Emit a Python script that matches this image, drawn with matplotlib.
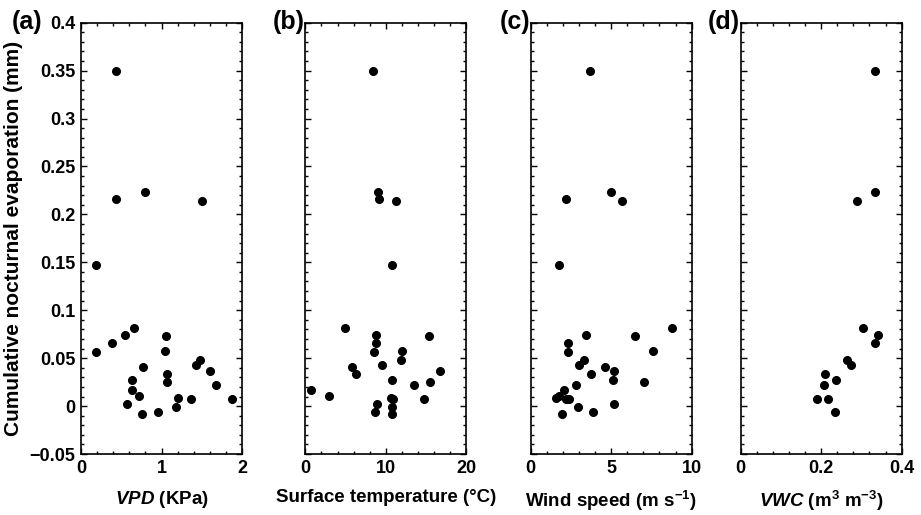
import numpy as np
import matplotlib
matplotlib.use('Agg')
import matplotlib.pyplot as plt
from matplotlib.ticker import MultipleLocator, FuncFormatter

##### 讀圖估計的數據 (mm)
vpd_x = [0.43, 0.44, 0.80, 1.50, 0.19, 0.19, 0.39, 0.54, 0.66, 1.05, 1.04, 0.77, 0.63, 0.63,
         0.72, 0.57, 0.76, 0.95, 1.07, 1.07, 1.20, 1.18, 1.36, 1.43, 1.48, 1.60, 1.68, 1.88]
vpd_y = [0.350, 0.2156, 0.223, 0.214, 0.1476, 0.056, 0.066, 0.074, 0.082, 0.073, 0.057, 0.041, 0.027, 0.017,
         0.011, 0.002, -0.008, -0.006, 0.034, 0.025, 0.008, -0.001, 0.007, 0.043, 0.048, 0.037, 0.022, 0.007]

temp_x = [8.35, 9.09, 9.13, 11.3, 10.8, 4.9, 8.8, 8.76, 8.55, 12.0, 11.9, 5.8, 6.3, 9.5,
          15.4, 16.7, 15.45, 13.55, 10.8, 0.74, 2.9, 10.6, 10.9, 10.8, 10.8, 8.9, 8.7, 14.7]
temp_y = [0.350, 0.223, 0.2156, 0.214, 0.1476, 0.082, 0.074, 0.066, 0.056, 0.057, 0.048, 0.041, 0.033, 0.043,
          0.073, 0.037, 0.025, 0.0215, 0.027, 0.017, 0.011, 0.008, 0.007, -0.001, -0.008, 0.002, -0.006, 0.007]

wind_x = [3.71, 4.98, 2.20, 5.66, 1.76, 8.76, 3.46, 6.45, 2.32, 2.32, 7.59, 3.32, 3.01, 4.61,
          5.17, 3.73, 5.12, 7.05, 2.84, 2.05, 1.78, 1.56, 2.22, 2.39, 2.97, 5.19, 1.97, 3.88]
wind_y = [0.350, 0.223, 0.2156, 0.214, 0.1476, 0.082, 0.074, 0.073, 0.066, 0.056, 0.057, 0.048, 0.043, 0.041,
          0.037, 0.033, 0.027, 0.025, 0.0215, 0.017, 0.011, 0.008, 0.007, 0.007, -0.001, 0.002, -0.008, -0.006]

vwc_x = [0.333, 0.335, 0.288, 0.303, 0.342, 0.333, 0.265, 0.275, 0.209, 0.236, 0.2075, 0.190, 0.216, 0.234]
vwc_y = [0.350, 0.223, 0.214, 0.082, 0.074, 0.066, 0.048, 0.043, 0.033, 0.027, 0.0215, 0.007, 0.007, -0.006]

panel_tags = ['(a)', '(b)', '(c)', '(d)']
x_labels = [r'$\it{VPD}$ (KPa)', 'Surface temperature (\u00b0C)',
            r'Wind speed (m s$^{-1}$)', r'$\it{VWC}$ (m$^{3}$ m$^{-3}$)']
x_ticks = [[0, 1, 2], [0, 10, 20], [0, 5, 10], [0, 0.2, 0.4]]
x_tick_labels = [['0', '1', '2'], ['0', '10', '20'], ['0', '5', '10'], ['0', '0.2', '0.4']]
x_minor = [0.2, 2, 1, 0.04]
y_label = 'Cumulative nocturnal evaporation (mm)'

plt.rcParams['font.family'] = ['Liberation Sans', 'DejaVu Sans']
plt.rcParams['font.weight'] = 'bold'
plt.rcParams['axes.labelweight'] = 'bold'
plt.rcParams['mathtext.fontset'] = 'custom'
plt.rcParams['mathtext.rm'] = 'Liberation Sans:bold'
plt.rcParams['mathtext.it'] = 'Liberation Sans:italic:bold'
plt.rcParams['mathtext.default'] = 'rm'


def y_fmt(v, pos):
    return f'{round(v, 3):g}'.replace('-', '\u2212')


def style_axis(ax, i):
    ax.set_xlim(x_ticks[i][0], x_ticks[i][-1])
    ax.set_ylim(-0.05, 0.4)
    ax.set_xticks(x_ticks[i])
    ax.set_xticklabels(x_tick_labels[i])
    ax.xaxis.set_minor_locator(MultipleLocator(x_minor[i]))
    ax.yaxis.set_major_locator(MultipleLocator(0.05))
    ax.yaxis.set_minor_locator(MultipleLocator(0.01))
    ax.tick_params(which='both', direction='in', top=True, right=True, labelsize=13, width=1.0)
    ax.tick_params(which='major', length=4, pad=4)
    ax.tick_params(which='minor', length=2)
    for sp in ax.spines.values():
        sp.set_linewidth(1.2)
    if i == 0:
        ax.yaxis.set_major_formatter(FuncFormatter(y_fmt))
        ax.set_ylabel(y_label, fontsize=15, labelpad=5)
    else:
        ax.set_yticklabels([])
    ax.set_xlabel(x_labels[i], fontsize=13.5, labelpad=9)


fig = plt.figure(figsize=(9.21, 5.15), dpi=100)
lefts = [0.0880, 0.3315, 0.5762, 0.8042]
data = [(vpd_x, vpd_y), (temp_x, temp_y), (wind_x, wind_y), (vwc_x, vwc_y)]
tag_x = [-0.24, -0.005, -0.005, -0.005]

for i in range(4):
    ax = fig.add_axes([lefts[i], 0.1184, 0.1748, 0.8375])
    xs, ys = data[i]
    ax.plot(xs, ys, 'o', color='black', markersize=5.5, linestyle='none')
    style_axis(ax, i)
    ax.text(tag_x[i], 0.985, panel_tags[i], transform=ax.transAxes, ha='right', va='baseline',
            fontsize=18, fontweight='bold')

fig.savefig('out.png', dpi=100)
